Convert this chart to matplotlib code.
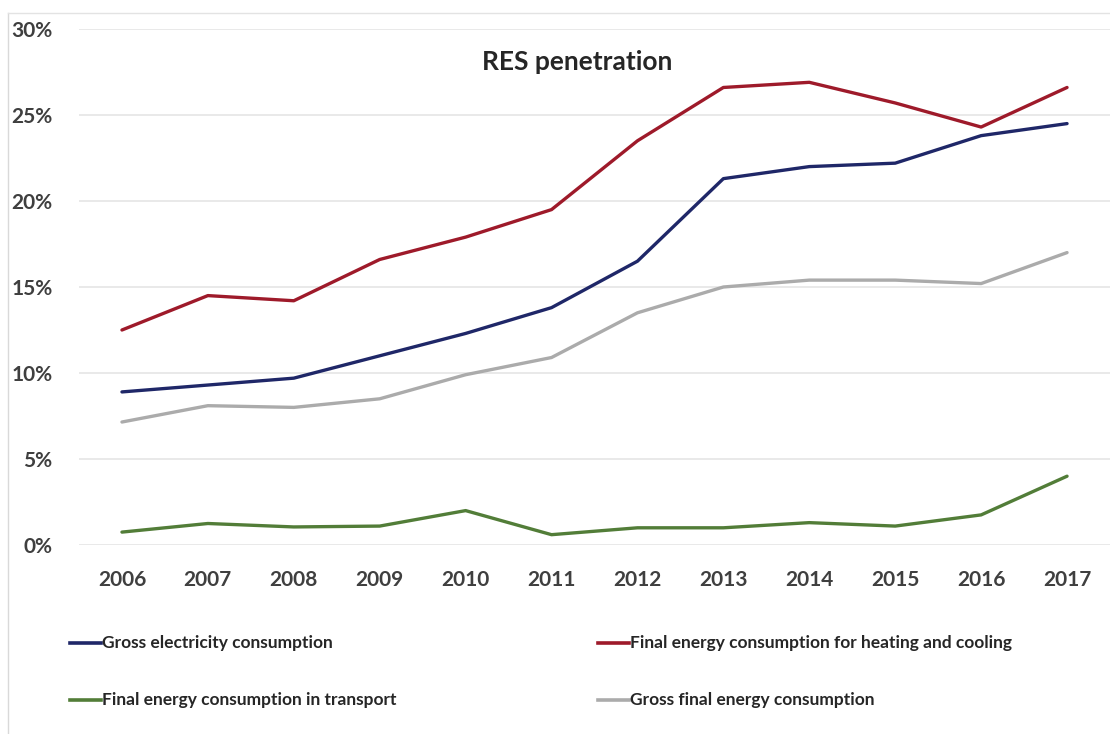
import matplotlib.pyplot as plt
from matplotlib.lines import Line2D
from matplotlib.ticker import PercentFormatter

years = ["2006", "2007", "2008", "2009", "2010", "2011",
         "2012", "2013", "2014", "2015", "2016", "2017"]

# RES share, %
gross_electricity = [8.9, 9.3, 9.7, 11.0, 12.3, 13.8, 16.5, 21.3, 22.0, 22.2, 23.8, 24.5]
heating_cooling = [12.5, 14.5, 14.2, 16.6, 17.9, 19.5, 23.5, 26.6, 26.9, 25.7, 24.3, 26.6]
transport = [0.75, 1.25, 1.05, 1.1, 2.0, 0.6, 1.0, 1.0, 1.3, 1.1, 1.75, 4.0]
gross_final = [7.15, 8.1, 8.0, 8.5, 9.9, 10.9, 13.5, 15.0, 15.4, 15.4, 15.2, 17.0]

series_names = ["Gross electricity consumption",
                "Final energy consumption for heating and cooling",
                "Final energy consumption in transport",
                "Gross final energy consumption"]
series_colors = ["#1F2768", "#9E1A2A", "#527D38", "#ABABAB"]

plt.rcParams["font.family"] = ["Lato", "DejaVu Sans"]

fig = plt.figure(figsize=(11.1, 7.34), dpi=100)
ax = fig.add_axes([79 / 1110, 189 / 734, 1.0 - 79 / 1110, 516 / 734])

x = range(len(years))
all_series = [gross_electricity, heating_cooling, transport, gross_final]
# draw order: grey and green behind
for idx in [3, 2, 0, 1]:
    ax.plot(x, all_series[idx], color=series_colors[idx], lw=2.4,
            solid_joinstyle="round", solid_capstyle="round", zorder=3)

ax.set_xlim(-0.5, len(years) - 0.5)
ax.set_ylim(0, 30)
ax.set_yticks(range(0, 31, 5))
ax.yaxis.set_major_formatter(PercentFormatter(decimals=0))
ax.set_xticks(list(x))
ax.set_xticklabels(years)
ax.grid(axis="y", color="#E3E3E3", lw=1.1)
ax.set_axisbelow(True)
for s in ax.spines.values():
    s.set_visible(False)
ax.tick_params(length=0, labelsize=15, labelcolor="#3F3F3F", pad=0)
for lab in ax.get_xticklabels() + ax.get_yticklabels():
    lab.set_fontweight("bold")
ax.tick_params(axis="y", pad=19)
ax.tick_params(axis="x", pad=18)

fig.text(577 / 1110, 1 - 62 / 734, "RES penetration", ha="center", va="center",
         fontsize=19, fontweight="bold", color="#262626")

# chart frame edges
fig.add_artist(Line2D([8 / 1110, 8 / 1110], [0, 1 - 13 / 734], color="#D9D9D9", lw=1))
fig.add_artist(Line2D([8 / 1110, 1], [1 - 13 / 734, 1 - 13 / 734], color="#E3E3E3", lw=1))

# legend, two columns
legend_pos = [(70, 643), (598, 643), (70, 700), (598, 700)]
legend_order = [0, 1, 2, 3]
for (lx, ly), idx in zip(legend_pos, legend_order):
    fy = 1 - ly / 734
    fig.add_artist(Line2D([lx / 1110, (lx + 31) / 1110], [fy, fy],
                          color=series_colors[idx], lw=2.6))
    fig.text((lx + 32) / 1110, fy, series_names[idx], ha="left", va="center",
             fontsize=12.5, fontweight="bold", color="#262626")

fig.savefig("out.png", dpi=100)
